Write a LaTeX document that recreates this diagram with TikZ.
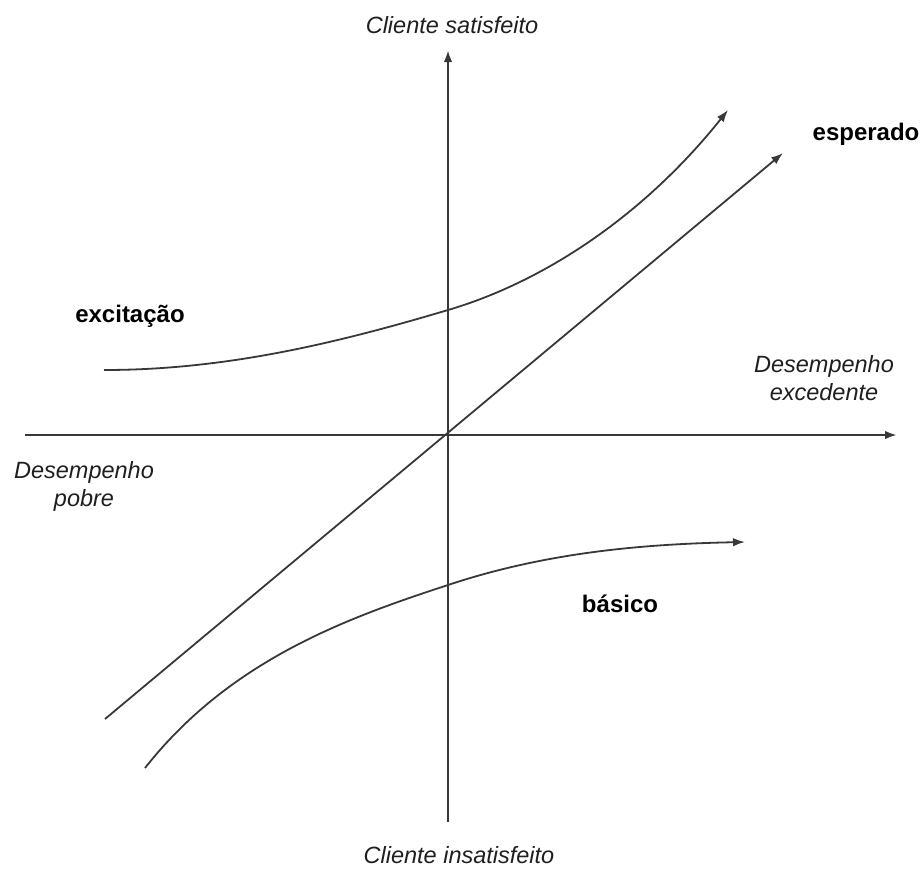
\documentclass[tikz,border=0pt]{standalone}
\usepackage{fontspec}
\setmainfont{Liberation Sans}
\usetikzlibrary{arrows.meta}
\begin{document}
\begin{tikzpicture}[x=1pt,y=-1pt,
  axis/.style={line width=2.2pt,-{Latex[length=12pt,width=8.5pt]},color=black!78},
  curve/.style={line width=1.8pt,-{Latex[length=12pt,width=8.5pt]},color=black!78},
  lbl/.style={font=\fontsize{23.5}{28}\selectfont\itshape,text=black!88,align=center,inner sep=0pt},
  blbl/.style={font=\fontsize{24}{28}\selectfont\bfseries,text=black,inner sep=0pt,anchor=base}]
\useasboundingbox (0,0) rectangle (923,868);
% axes
\coordinate (ybot) at (448,822);
\coordinate (ytop) at (448,50);
\coordinate (xl) at (25,435);
\coordinate (xr) at (897,435);
\draw[axis] (ybot) -- (ytop);
\draw[axis] (xl) -- (xr);
% esperado
\coordinate (es) at (105,719);
\coordinate (ee) at (783,153);
\draw[curve] (es) -- (ee);
% excitacao
\coordinate (xs) at (104,370);
\coordinate (xm) at (448,310);
\coordinate (xe) at (728,110);
\draw[curve] (xs) .. controls (224,370) and (334,344) .. (xm)
  .. controls (540,283) and (641,219) .. (xe);
% basico
\coordinate (bs) at (145,768);
\coordinate (bm) at (448,585);
\coordinate (be) at (745,542);
\draw[curve] (bs) .. controls (230,660) and (347,618) .. (bm)
  .. controls (547,552) and (645,544) .. (be);
% labels
\node[lbl,anchor=base] (sat) at (452,33) {Cliente satisfeito};
\node[lbl,anchor=base] (insat) at (459,863) {Cliente insatisfeito};
\node[lbl,anchor=north] (exc) at (824,355) {Desempenho\\excedente};
\node[lbl,anchor=north] (pob) at (84,461) {Desempenho\\pobre};
\node[blbl] (lesp) at (866,140) {esperado};
\node[blbl] (lexc) at (130,322) {excitação};
\node[blbl] (lbas) at (620,612) {básico};
\end{tikzpicture}
\end{document}
